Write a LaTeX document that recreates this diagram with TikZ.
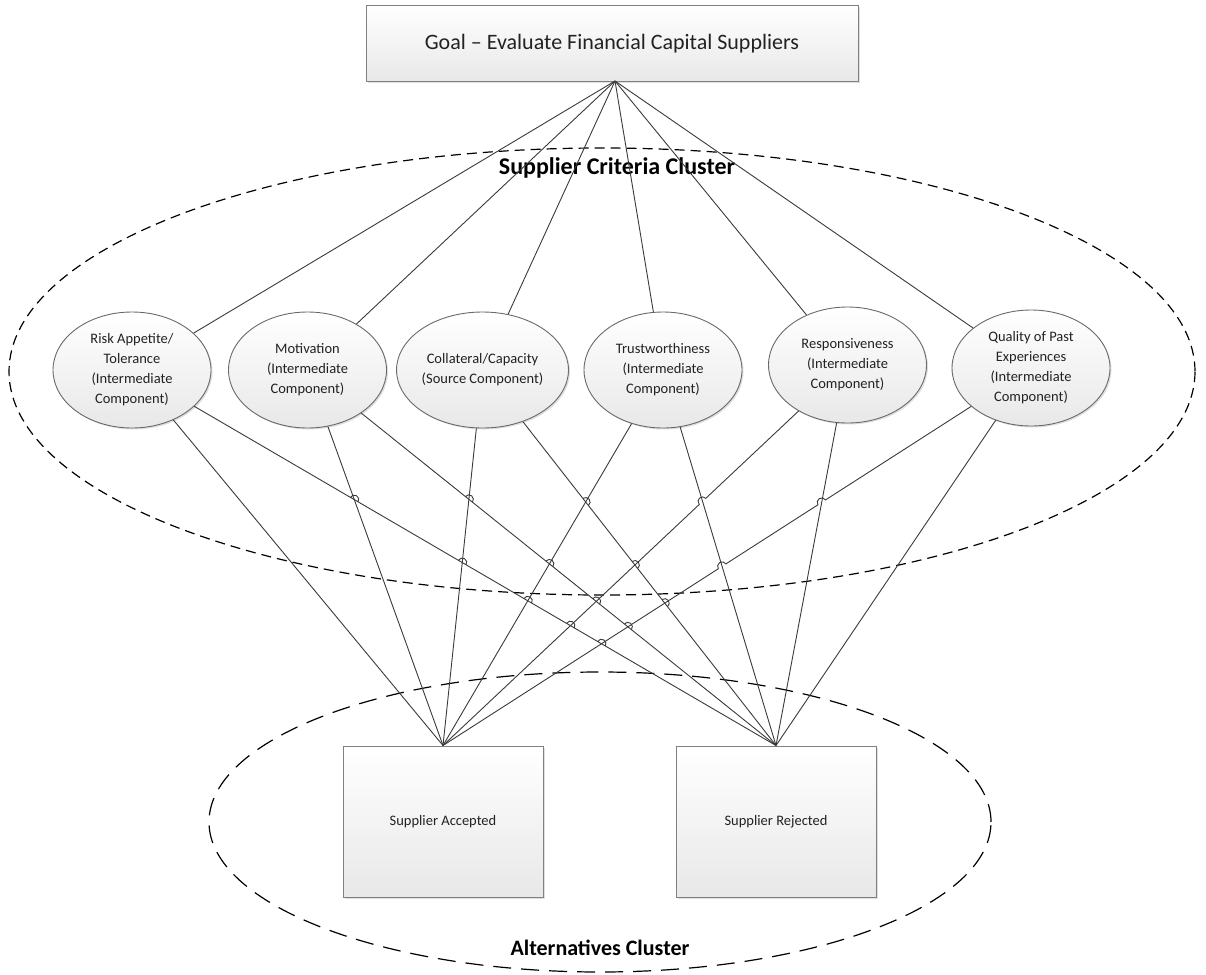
\documentclass[tikz,border=0pt]{standalone}
\usepackage{fontspec}
\setmainfont{Carlito}
\usetikzlibrary{shapes.geometric,intersections,calc,shadows}

\definecolor{edgegray}{HTML}{6A6A6A}
\definecolor{boxedge}{HTML}{808080}
\definecolor{fillgray}{HTML}{E8E8E8}
\definecolor{linkgray}{HTML}{3A3A3A}
\definecolor{txt}{HTML}{222222}

% a straight connector that jumps over the connectors named in #3
\newcommand\hopline[3]{%
  \pgfmathanglebetweenpoints{\pgfpointanchor{#1}{center}}{\pgfpointanchor{#2}{center}}%
  \let\hopang\pgfmathresult
  \path[name path=hcur] (#1) -- (#2);
  \draw[link, name intersections={of=hcur and #3, name=hx, total=\hn, sort by=hcur}]
    (#1) \foreach \k in {1,...,\hn}{
      -- ($(hx-\k)!4.5pt!(#1)$) arc[start angle=\hopang+180, end angle=\hopang, radius=4.5pt]
    } -- (#2);
}

\begin{document}
\begin{tikzpicture}[x=1pt,y=-1pt,
  link/.style={draw=linkgray, line width=0.9pt},
  goalbox/.style={rectangle, draw=boxedge, line width=1pt, top color=white, bottom color=fillgray,
    minimum width=492pt, minimum height=75pt, inner sep=0pt, text=txt,
    font=\fontsize{22}{26}\selectfont,
    drop shadow={shadow xshift=1.5pt, shadow yshift=-1.5pt, opacity=0.25}},
  crit/.style={ellipse, draw=edgegray, line width=0.9pt, top color=white, bottom color=fillgray,
    minimum width=158pt, minimum height=116pt, inner sep=0pt, align=center, text=txt,
    font=\fontsize{14.5}{20}\selectfont,
    drop shadow={shadow xshift=1.5pt, shadow yshift=-1.5pt, opacity=0.25}},
  altbox/.style={rectangle, draw=boxedge, line width=1pt, top color=white, bottom color=fillgray,
    minimum width=200pt, minimum height=151pt, inner sep=0pt, text=txt,
    font=\fontsize{14.5}{18}\selectfont,
    drop shadow={shadow xshift=1.5pt, shadow yshift=-1.5pt, opacity=0.25}},
  cluster/.style={draw=black, line width=1.2pt},
  clusterlabel/.style={font=\bfseries\fontsize{22}{26}\selectfont, text=black}
]
\useasboundingbox (0,0) rectangle (1206,974);

% cluster outlines
\draw[cluster, dash pattern=on 10pt off 6pt] (602,371.5) ellipse [x radius=593pt, y radius=223.5pt];
\draw[cluster, dash pattern=on 18pt off 10pt] (600,822) ellipse [x radius=391pt, y radius=150pt];

% goal
\node[goalbox] (goal) at (612,43.5) {Goal -- Evaluate Financial Capital Suppliers};
\coordinate (gh) at (615,81);

\node[clusterlabel, font=\bfseries\fontsize{24}{28}\selectfont] (critlabel) at (617,168) {Supplier Criteria Cluster};
\node[clusterlabel] (altlabel) at (600,948) {Alternatives Cluster};

% criteria
\node[crit] (e1) at (132,370) {Risk Appetite/\\Tolerance\\(Intermediate\\Component)};
\node[crit] (e2) at (307.5,370) {Motivation\\(Intermediate\\Component)};
\node[crit] (e3) at (482.5,370) {Collateral/Capacity\\(Source Component)};
\node[crit] (e4) at (663,370) {Trustworthiness\\(Intermediate\\Component)};
\node[crit] (e5) at (847.5,365) {Responsiveness\\(Intermediate\\Component)};
\node[crit] (e6) at (1031,368) {Quality of Past\\Experiences\\(Intermediate\\Component)};

% alternatives
\node[altbox] (acc) at (443,821.5) {Supplier Accepted};
\node[altbox] (rej) at (776,821.5) {Supplier Rejected};
\coordinate (hA) at (acc.north);
\coordinate (hR) at (rej.north);

% goal to criteria
\foreach \e in {e1,e2,e3,e4,e5,e6} \draw[link] (gh) -- (\e);

% straight connectors
\draw[link] (e1) -- (hA);
\draw[link] (e2) -- (hA);
\draw[link] (e3) -- (hA);
\draw[link] (e4) -- (hR);
\draw[link] (e5) -- (hR);
\draw[link] (e6) -- (hR);
\draw[link] (e4) -- (hA);

% paths that the jumping connectors cross
\path[name path=o1] (e2) -- (hA) (e3) -- (hA) (e4) -- (hA) (e5) -- (hA) (e6) -- (hA);
\path[name path=o2] (e3) -- (hA) (e4) -- (hA) (e5) -- (hA) (e6) -- (hA);
\path[name path=o3] (e4) -- (hA) (e5) -- (hA) (e6) -- (hA);
\path[name path=o5] (e4) -- (hR);
\path[name path=o6] (e4) -- (hR) (e5) -- (hR);

% connectors with line jumps
\hopline{hA}{e5}{o5}
\hopline{hA}{e6}{o6}
\hopline{e1}{hR}{o1}
\hopline{e2}{hR}{o2}
\hopline{e3}{hR}{o3}
\end{tikzpicture}
\end{document}
